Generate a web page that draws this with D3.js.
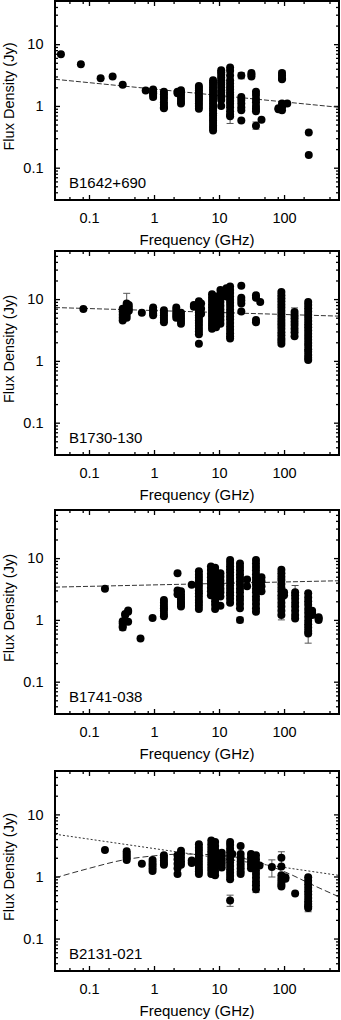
<!DOCTYPE html>
<html>
<head>
<meta charset="utf-8">
<script src="https://cdn.jsdelivr.net/npm/d3@7"></script>
<style>
  body { margin: 0; background: #fff; }
  svg { display: block; font-family: "Liberation Sans", Arial, Helvetica, sans-serif; }
</style>
</head>
<body>
<div id="chart"></div>
<script>
// ---- data: [frequency GHz, [flux densities Jy]] per observed band ----
const b1642Obs = [
  [0.037, [6.9]], [0.075, [4.75]], [0.151, [2.8]], [0.231, [3.0]], [0.33, [2.2]],
  [0.745, [1.77]],
  [0.97, [1.85, 1.7, 1.6, 1.5, 1.4]],
  [1.42, [1.7, 1.55, 1.4, 1.3, 1.15, 1.05, 0.95, 0.92]],
  [2.3, [1.7, 1.6]],
  [2.6, [1.8, 1.65, 1.5, 1.35, 1.2, 1.1]],
  [4.9, [2.1, 1.95, 1.8, 1.65, 1.5, 1.4, 1.3, 1.2, 1.1, 1.0, 0.9]],
  [8.1, [2.6, 2.4, 2.2, 2.0, 1.85, 1.7, 1.55, 1.42, 1.3, 1.2, 1.1, 1.0, 0.92, 0.84, 0.76, 0.7, 0.64, 0.58, 0.53, 0.48, 0.44, 0.4]],
  [10.8, [3.8, 3.5, 3.2, 2.9, 2.6, 2.4, 2.2, 2.0, 1.8, 1.65, 1.5, 1.38, 1.25, 1.0]],
  [14.8, [4.2, 3.7, 3.1, 2.6, 2.3, 2.05, 1.85, 1.65, 1.5, 1.35, 1.2, 1.08, 0.95, 0.82, 0.72, 0.68]],
  [22, [3.1, 1.4, 1.25, 1.1, 0.95, 0.85, 0.58]],
  [31.5, [3.4, 3.2, 3.0]],
  [37, [1.7, 1.5, 1.3, 1.15, 1.0, 0.9, 0.82, 0.48]],
  [45, [0.6]],
  [82, [0.92, 0.88]],
  [93, [3.4, 3.1, 2.8, 2.7, 1.1, 0.95, 0.85]],
  [112, [1.1]],
  [240, [0.37, 0.16]]
];
const b1642Err = [[0.97, 1.3, 1.6], [14.8, 0.52, 0.75], [22, 2.75, 3.45], [37, 0.42, 0.55], [93, 2.6, 3.7]];
const b1642Fit = [[0.03, 2.7], [700, 0.95]];

const b1730Obs = [
  [0.082, [6.9]],
  [0.33, [7.0, 6.3, 5.6, 5.0, 4.5]],
  [0.38, [8.5, 7.8, 7.0, 6.3, 5.6, 5.0]],
  [0.41, [8.0, 7.2, 6.5]],
  [0.65, [6.0]],
  [0.97, [7.3, 6.8, 6.3, 5.8, 5.5]],
  [1.42, [6.6, 6.0, 5.5, 5.0, 4.6, 4.2]],
  [2.2, [7.3, 6.6, 6.0, 5.5, 5.0]],
  [2.6, [6.0, 5.4, 4.9, 4.4, 4.0]],
  [4.1, [8.0, 7.5]],
  [4.9, [9.2, 8.3, 7.5, 6.8, 6.1, 5.5, 5.0, 4.5, 4.1, 3.7, 3.3, 3.0, 2.7, 1.9]],
  [5.3, [8.5, 7.0, 5.8]],
  [7.8, [12, 10.5, 9.3, 8.2, 7.3, 6.5, 5.8, 5.2, 4.6, 4.1, 3.7, 3.3]],
  [9.0, [11, 9.5, 8.0, 6.8, 5.6, 4.8, 4.0, 3.5]],
  [10.5, [14, 12, 10.5, 9.0, 7.8, 6.8, 6.0, 5.3, 4.6, 4.0]],
  [13, [15, 13, 11]],
  [14.8, [16, 14, 12.5, 11, 9.8, 8.7, 7.7, 6.8, 6.0, 5.3, 4.7, 4.1, 3.6, 3.2, 2.8, 2.5, 2.3]],
  [22, [16.5, 10.5, 9.5, 8.5, 6.3]],
  [37, [11.5, 10.5, 4.6, 4.2]],
  [43, [9.0]],
  [91, [13, 11.5, 10.3, 9.2, 8.2, 7.3, 6.5, 5.8, 5.2, 4.6, 4.1, 3.7, 3.3, 2.9, 2.6, 2.3, 2.1, 1.9]],
  [145, [6.2, 5.5, 4.9, 4.3, 3.8, 3.3, 2.9, 2.5]],
  [235, [9.0, 8.0, 7.1, 6.3, 5.6, 5.0, 4.4, 3.9, 3.5, 3.1, 2.75, 2.45, 2.2, 1.95, 1.75, 1.55, 1.4, 1.25, 1.12, 1.03]]
];
const b1730Err = [[0.38, 4.8, 12.4], [91, 1.8, 2.1], [145, 5.5, 7.2]];
const b1730Fit = [[0.03, 7.3], [700, 5.3]];

const b1741Obs = [
  [0.176, [3.18]],
  [0.33, [0.95, 0.88, 0.8, 0.75]],
  [0.36, [1.25, 1.2]],
  [0.4, [1.42, 1.35, 0.93]],
  [0.62, [0.5]],
  [0.95, [1.07]],
  [1.42, [2.1, 1.9, 1.7, 1.55, 1.4, 1.25, 1.14]],
  [2.3, [5.7, 3.0, 2.6]],
  [2.6, [2.9, 2.6, 2.35, 2.15, 1.95, 1.8, 1.65]],
  [3.8, [3.7]],
  [4.9, [6.1, 5.4, 4.8, 4.3, 3.8, 3.4, 3.0, 2.7, 2.4, 2.1, 1.9, 1.7, 1.5]],
  [7.5, [7.3, 6.4, 5.6, 4.9, 4.3, 3.8, 3.3, 2.9, 2.5]],
  [8.7, [7.0, 6.2, 5.4, 4.7, 4.1, 3.6, 3.1, 2.7, 2.3, 2.0, 1.75, 1.5]],
  [10.5, [5.7, 5.0, 4.3, 3.7, 3.2, 2.8, 2.4, 1.7]],
  [14.8, [9.3, 8.3, 7.4, 6.6, 5.9, 5.2, 4.6, 4.1, 3.6, 3.2, 2.8, 2.5, 2.2, 1.9]],
  [21, [8.2, 7.2, 6.3, 5.5, 4.8, 4.2, 3.7, 3.2, 2.8, 2.4, 2.1, 1.8, 1.55, 1.0]],
  [27, [4.5, 3.5]],
  [37, [9.3, 8.2, 7.2, 6.3, 5.5, 4.8, 4.2, 3.7, 3.2, 2.8, 2.4, 2.1, 1.8, 1.55, 1.35]],
  [45, [4.9, 4.2, 3.5, 2.9]],
  [91, [6.5, 5.7, 5.0, 4.4, 3.8, 3.3, 2.9, 2.5, 2.2, 1.9, 1.65, 1.4, 1.2]],
  [100, [2.8, 2.5]],
  [148, [2.8, 2.5, 2.2, 1.9, 1.65, 1.4, 1.2, 1.05]],
  [235, [2.7, 2.3, 2.0, 1.75, 1.5, 1.3, 1.12, 0.97, 0.85, 0.75, 0.66, 0.6]],
  [270, [1.4, 1.3, 1.2]],
  [340, [1.1, 1.05, 1.0]]
];
const b1741Err = [[0.33, 0.68, 0.95], [21, 0.9, 1.1], [91, 1.0, 1.2], [148, 2.5, 3.6], [235, 0.42, 0.7]];
const b1741Fit = [[0.03, 3.39], [700, 4.3]];

const b2131Obs = [
  [0.176, [2.68]],
  [0.38, [2.55, 2.35, 2.15, 2.0, 1.85]],
  [0.65, [1.6]],
  [0.95, [1.85, 1.65, 1.5, 1.35, 1.22]],
  [1.42, [2.2, 2.0, 1.8, 1.65, 1.55]],
  [2.3, [2.2, 1.9, 1.6, 1.35, 1.1]],
  [2.6, [2.6, 2.3, 2.0, 1.75, 1.55]],
  [3.8, [1.8, 1.65]],
  [4.9, [3.3, 2.9, 2.6, 2.3, 2.05, 1.85, 1.65, 1.48, 1.32, 1.2, 1.1]],
  [7.6, [3.8, 3.3, 2.9, 2.55, 2.25, 2.0, 1.78, 1.58, 1.4, 1.25, 1.1]],
  [8.7, [3.6, 3.1, 2.7, 2.35, 2.05, 1.8, 1.6, 1.4, 1.2, 1.05]],
  [11, [2.4, 2.1, 1.8, 1.6, 1.4]],
  [14.8, [3.6, 3.2, 2.8, 2.45, 2.15, 1.9, 1.68, 1.48, 1.3, 1.15, 1.02, 0.9, 0.41]],
  [16, [2.3]],
  [21.5, [3.1, 2.3, 2.0, 1.75, 1.55, 1.35, 1.2, 1.1]],
  [31, [2.3, 2.0, 1.75, 1.55, 1.35]],
  [37, [2.2, 1.9, 1.65, 1.45, 1.25, 1.1, 0.95, 0.82, 0.72, 0.62]],
  [42, [1.5]],
  [65, [1.42]],
  [91, [2.0, 1.45, 1.05, 0.92, 0.82, 0.74, 0.69]],
  [105, [0.97, 0.92]],
  [148, [0.53]],
  [235, [0.97, 0.85, 0.75, 0.66, 0.58, 0.51, 0.45, 0.4, 0.36, 0.33, 0.31]]
];
const b2131Err = [[14.8, 0.33, 0.5], [37, 0.55, 0.7], [65, 0.98, 1.85], [91, 1.5, 2.5], [235, 0.27, 0.35]];
const b2131Fit = [[0.03, 4.8], [700, 1.04]];
const b2131CurveFreq = [0.03, 0.1, 0.3, 1, 3, 10, 30, 100, 300, 700];
const b2131CurveFlux = [0.95, 1.35, 1.8, 2.15, 2.3, 2.2, 1.85, 1.2, 0.7, 0.47];

const xMajor = [0.1, 1, 10, 100];
const yMajor = [0.1, 1, 10];
const freqDomain = [0.03, 700];

// ---- layout ----
const width = 341, height = 1020;
const plotLeft = 55, plotRight = 339;

const panels = [
  { name: "B1642+690", obs: b1642Obs, err: b1642Err, fits: [{ pts: b1642Fit, dash: "5,2" }], top: 1, bottom: 200, yMax: 50 },
  { name: "B1730-130", obs: b1730Obs, err: b1730Err, fits: [{ pts: b1730Fit, dash: "5,2" }], top: 251, bottom: 455, yMax: 60 },
  { name: "B1741-038", obs: b1741Obs, err: b1741Err, fits: [{ pts: b1741Fit, dash: "5,2" }], top: 510, bottom: 714, yMax: 60 },
  { name: "B2131-021", obs: b2131Obs, err: b2131Err, top: 771, bottom: 971, yMax: 50,
    fits: [
      { pts: b2131Fit, dash: "2,2" },
      { pts: b2131CurveFreq.map((f, i) => [f, b2131CurveFlux[i]]), dash: "6,3", curve: true }
    ] }
];

const svg = d3.select("#chart").append("svg")
  .attr("width", width)
  .attr("height", height);

// minor log ticks between majors
function minorTicks(domain, mults) {
  const out = [];
  for (let e = -3; e <= 3; e++) {
    mults.forEach(m => {
      const v = m * Math.pow(10, e);
      if (v > domain[0] && v < domain[1]) out.push(v);
    });
  }
  return out;
}

panels.forEach((p, i) => {
  const x = d3.scaleLog().domain(freqDomain).range([plotLeft, plotRight]);
  const y = d3.scaleLog().domain([0.03, p.yMax]).range([p.bottom, p.top]);
  const g = svg.append("g");

  const clipId = "clip" + i;
  g.append("clipPath").attr("id", clipId)
    .append("rect")
    .attr("x", plotLeft).attr("y", p.top)
    .attr("width", plotRight - plotLeft).attr("height", p.bottom - p.top);

  // axes: bottom/left labelled, top/right ticks only, all ticks inward
  const xMinor = minorTicks(freqDomain, [2, 5, 8]);
  const yMinor = minorTicks(y.domain(), [2, 3, 4, 5, 6, 7, 8, 9]);

  const fmt = d3.format("~g");
  const axes = [
    { gen: d3.axisBottom(x).tickValues(xMajor).tickSize(-5).tickPadding(13).tickFormat(fmt), t: `translate(0,${p.bottom})` },
    { gen: d3.axisBottom(x).tickValues(xMinor).tickSize(-3).tickFormat(""), t: `translate(0,${p.bottom})` },
    { gen: d3.axisTop(x).tickValues(xMajor).tickSize(-5).tickFormat(""), t: `translate(0,${p.top})` },
    { gen: d3.axisTop(x).tickValues(xMinor).tickSize(-3).tickFormat(""), t: `translate(0,${p.top})` },
    { gen: d3.axisLeft(y).tickValues(yMajor).tickSize(-5).tickPadding(11.5).tickFormat(fmt), t: `translate(${plotLeft},0)` },
    { gen: d3.axisLeft(y).tickValues(yMinor).tickSize(-3).tickFormat(""), t: `translate(${plotLeft},0)` },
    { gen: d3.axisRight(y).tickValues(yMajor).tickSize(-5).tickFormat(""), t: `translate(${plotRight},0)` },
    { gen: d3.axisRight(y).tickValues(yMinor).tickSize(-3).tickFormat(""), t: `translate(${plotRight},0)` }
  ];
  axes.forEach(a => {
    const ag = g.append("g").attr("transform", a.t).call(a.gen);
    ag.select(".domain").remove();
    ag.selectAll("line").attr("stroke", "#000").attr("stroke-width", 1.3);
    ag.selectAll("text")
      .attr("fill", "#000")
      .style("font-size", "14.5px")
      .style("font-family", "'Liberation Sans', Arial, Helvetica, sans-serif");
  });

  const plot = g.append("g").attr("clip-path", `url(#${clipId})`);

  // error bars
  const eb = plot.selectAll(".err").data(p.err).join("g").attr("class", "err")
    .attr("stroke", "#555").attr("stroke-width", 1);
  eb.append("line")
    .attr("x1", d => x(d[0])).attr("x2", d => x(d[0]))
    .attr("y1", d => y(d[1])).attr("y2", d => y(d[2]));
  eb.append("line")
    .attr("x1", d => x(d[0]) - 3.5).attr("x2", d => x(d[0]) + 3.5)
    .attr("y1", d => y(d[1])).attr("y2", d => y(d[1]));
  eb.append("line")
    .attr("x1", d => x(d[0]) - 3.5).attr("x2", d => x(d[0]) + 3.5)
    .attr("y1", d => y(d[2])).attr("y2", d => y(d[2]));

  // model fits
  p.fits.forEach(f => {
    const line = d3.line()
      .x(d => x(d[0])).y(d => y(d[1]))
      .curve(f.curve ? d3.curveMonotoneX : d3.curveLinear);
    plot.append("path")
      .datum(f.pts)
      .attr("d", line)
      .attr("fill", "none")
      .attr("stroke", "#333")
      .attr("stroke-width", 1)
      .attr("stroke-dasharray", f.dash);
  });

  // flatten observations into points
  const pts = p.obs.flatMap(([f, vals]) => vals.map(v => ({ f, v })));
  plot.selectAll(".dot").data(pts).join("circle")
    .attr("class", "dot")
    .attr("cx", d => x(d.f))
    .attr("cy", d => y(d.v))
    .attr("r", 4)
    .attr("fill", "#000");

  // frame
  g.append("rect")
    .attr("x", plotLeft).attr("y", p.top)
    .attr("width", plotRight - plotLeft).attr("height", p.bottom - p.top)
    .attr("fill", "none").attr("stroke", "#000").attr("stroke-width", 2);

  // source name
  g.append("text")
    .attr("x", 69).attr("y", p.bottom - 12)
    .style("font-size", "15px")
    .text(p.name);

  // axis titles
  g.append("text")
    .attr("x", (plotLeft + plotRight) / 2).attr("y", p.bottom + 45)
    .attr("text-anchor", "middle")
    .style("font-size", "15px")
    .text("Frequency (GHz)");

  g.append("text")
    .attr("transform", `translate(13.5, ${(p.top + p.bottom) / 2 - 4}) rotate(-90)`)
    .attr("text-anchor", "middle")
    .style("font-size", "14.5px")
    .text("Flux Density (Jy)");
});
</script>
</body>
</html>
